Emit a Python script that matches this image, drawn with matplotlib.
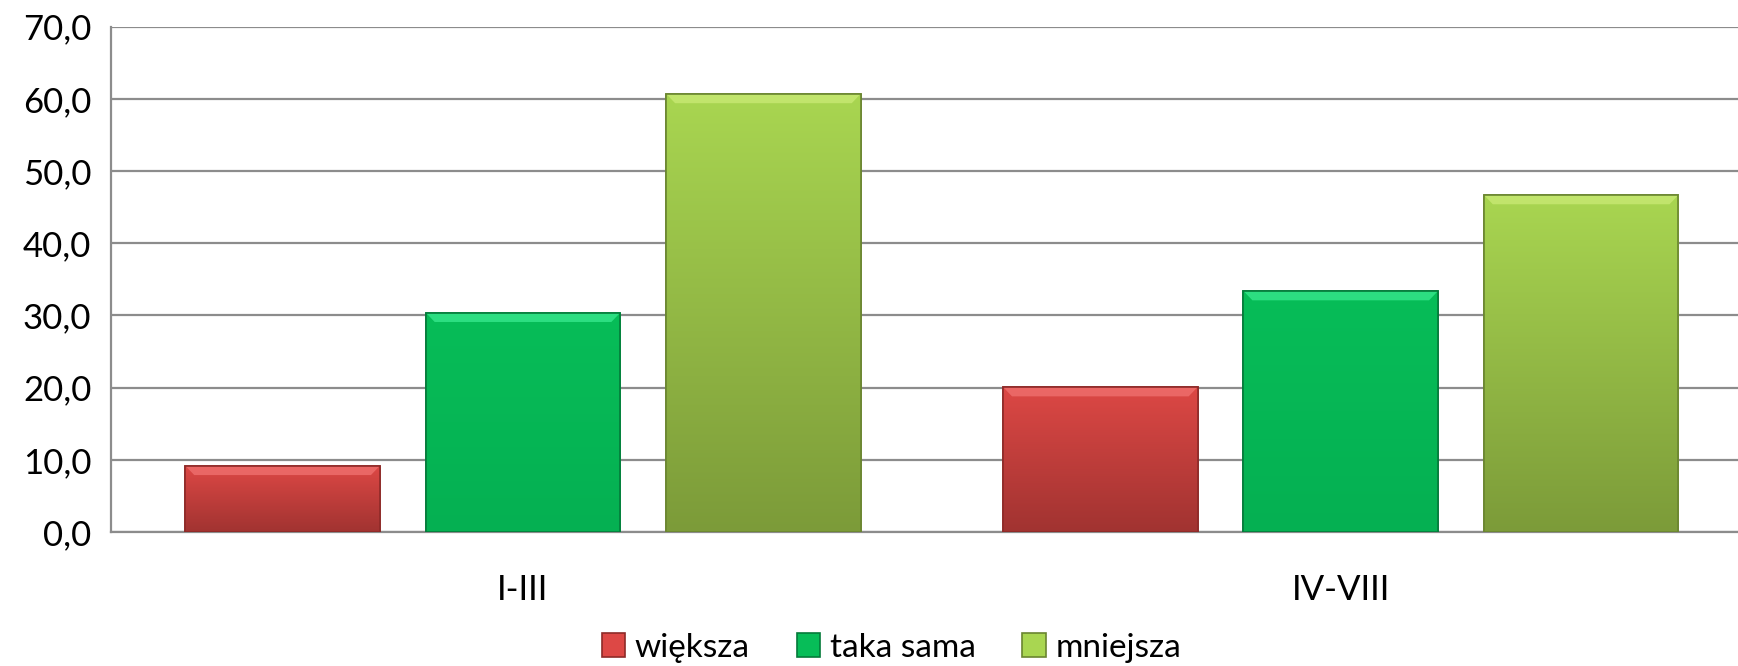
import numpy as np
import matplotlib
matplotlib.use("Agg")
from matplotlib import pyplot as plt
from matplotlib.colors import LinearSegmentedColormap
from matplotlib.patches import Polygon

plt.rcParams['font.family'] = ['Lato', 'DejaVu Sans']

categories = ['I-III', 'IV-VIII']
series_names = ['większa', 'taka sama', 'mniejsza']
wieksza = [9.2, 20.1]
taka_sama = [30.4, 33.4]
mniejsza = [60.7, 46.7]
y_ticks = [0, 10, 20, 30, 40, 50, 60, 70]

# top colour, bottom colour, edge colour, bevel colour for each series
grads = [('#dd4845', '#a13331', '#8e2a28', '#f27674'),
         ('#07bd58', '#05b052', '#047a3a', '#3ded93'),
         ('#a9d651', '#7c9b39', '#6a8530', '#cdec78')]

fig = plt.figure(figsize=(17.38, 6.66), dpi=100)
ax = fig.add_axes([0.0638, 0.201, 0.941, 0.759])

x = np.arange(len(categories))
width = 0.238
step = 0.294
values = [wieksza, taka_sama, mniejsza]
bevel_h = 1.3   # data units
bevel_w = 0.011

grad = np.linspace(0, 1, 256).reshape(-1, 1)
for i, (vals, name) in enumerate(zip(values, series_names)):
    top, bottom, edge, light = grads[i]
    bars = ax.bar(x + (i - 1) * step, vals, width, color=top, edgecolor=edge,
                  linewidth=1.2, label=name, zorder=3)
    cmap = LinearSegmentedColormap.from_list('g%d' % i, [bottom, top])
    for b in bars:
        x0, y0 = b.get_x(), b.get_y()
        x1, y1 = x0 + b.get_width(), y0 + b.get_height()
        im = ax.imshow(grad, cmap=cmap, origin='lower', aspect='auto',
                       extent=(x0, x1, y0, y1), zorder=3.5)
        im.set_clip_path(b)
        ax.add_patch(Polygon([(x0, y1), (x1, y1), (x1 - bevel_w, y1 - bevel_h),
                              (x0 + bevel_w, y1 - bevel_h)], closed=True,
                             facecolor=light, edgecolor='none', alpha=0.7,
                             zorder=3.7))
        ax.add_patch(plt.Rectangle((x0, y0), x1 - x0, y1 - y0, fill=False,
                                   edgecolor=edge, linewidth=1.2, zorder=3.8))

ax.set_xlim(-0.504, 1.496)
ax.set_ylim(0, 70)
ax.set_yticks(y_ticks)
ax.set_yticklabels(['%d,0' % t for t in y_ticks])
ax.set_xticks(x)
ax.set_xticklabels(categories)
ax.tick_params(axis='both', length=0, labelsize=25, colors='black')
ax.tick_params(axis='y', pad=14)
ax.tick_params(axis='x', pad=30)
ax.grid(axis='y', color='#8c8c8c', linewidth=1.6, zorder=0)
ax.set_axisbelow(True)
for s in ['top', 'right']:
    ax.spines[s].set_visible(False)
for s in ['left', 'bottom']:
    ax.spines[s].set_color('#8c8c8c')
    ax.spines[s].set_linewidth(1.6)

fig.legend(loc='lower center', bbox_to_anchor=(0.513, -0.04), ncol=3,
           frameon=False, fontsize=24, handlelength=0.7, handleheight=0.7,
           handletextpad=0.3, columnspacing=1.4)

fig.savefig('out.png', dpi=100)
